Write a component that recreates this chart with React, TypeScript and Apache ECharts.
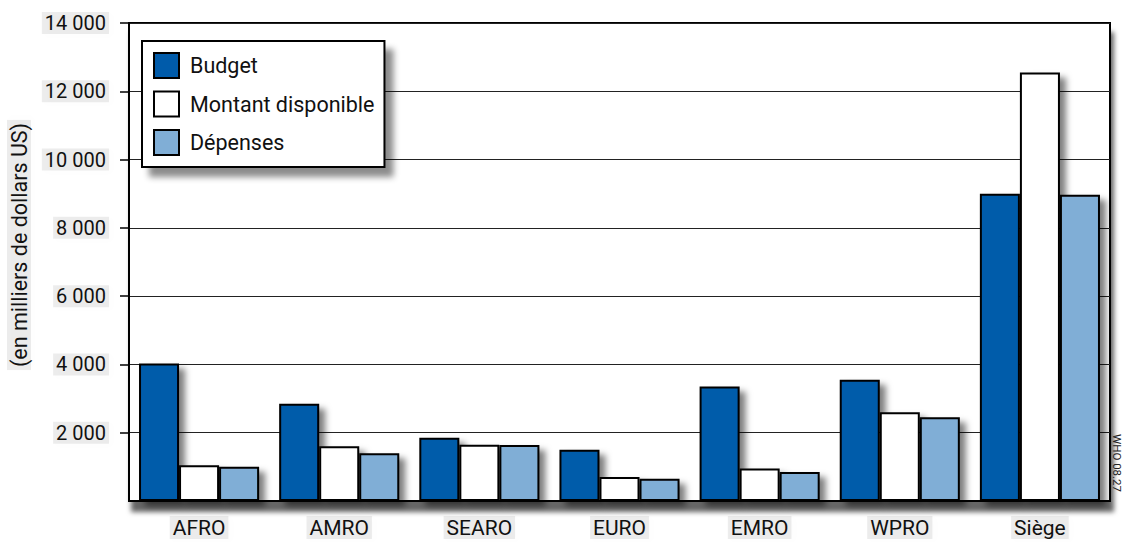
import React, { useEffect, useRef } from "react";
import * as echarts from "echarts";

// Regional offices and headquarters
const categories = ["AFRO", "AMRO", "SEARO", "EURO", "EMRO", "WPRO", "Siège"];

// Values in thousands of US dollars
const budget = [4030, 2850, 1850, 1500, 3350, 3550, 9000];
const available = [1050, 1600, 1650, 700, 950, 2600, 12550];
const expenses = [1000, 1400, 1640, 650, 850, 2450, 8970];

const seriesNames = ["Budget", "Montant disponible", "Dépenses"];
const yTicks = { min: 0, max: 14000, interval: 2000 };
const yAxisTitle = "(en milliers de dollars US)";
const sourceCode = "WHO 08.27";

const FONT = 'Roboto, "Liberation Sans", Arial, sans-serif';

// Soft grey halo behind the axis texts
const labelHaze = {
  backgroundColor: "rgba(0,0,0,0.07)",
  shadowColor: "rgba(0,0,0,0.12)",
  shadowBlur: 6,
  shadowOffsetX: 3,
  shadowOffsetY: 2,
  padding: [1, 3, 1, 3],
};

const barShadow = {
  shadowColor: "rgba(0,0,0,0.5)",
  shadowBlur: 6,
  shadowOffsetX: 6,
  shadowOffsetY: 5,
};

const formatThousands = (v: number) =>
  String(v).replace(/\B(?=(\d{3})+(?!\d))/g, " ");

export default function App() {
  const ref = useRef<HTMLDivElement>(null);

  useEffect(() => {
    if (!ref.current) return;
    const chart = echarts.init(ref.current, undefined, { renderer: "svg" });

    const colors = ["#005BAA", "#FFFFFF", "#80AED6"];
    const data = [budget, available, expenses];

    chart.setOption({
      animation: false,
      backgroundColor: "#ffffff",
      textStyle: { fontFamily: FONT },
      grid: {
        left: 129,
        right: 14,
        top: 23,
        bottom: 41,
        show: true,
        backgroundColor: "#ffffff",
        borderColor: "#000000",
        borderWidth: 2,
        shadowColor: "rgba(0,0,0,0.6)",
        shadowBlur: 5,
        shadowOffsetX: 3,
        shadowOffsetY: 10,
      },
      legend: {
        left: 142,
        top: 41,
        orient: "vertical",
        selectedMode: false,
        data: seriesNames,
        icon: "rect",
        itemWidth: 25,
        itemHeight: 25,
        itemGap: 11.5,
        padding: [11, 10, 11, 11],
        backgroundColor: "#ffffff",
        borderColor: "#000000",
        borderWidth: 2,
        shadowColor: "rgba(0,0,0,0.45)",
        shadowBlur: 6,
        shadowOffsetX: 8,
        shadowOffsetY: 9,
        itemStyle: {
          borderColor: "#000000",
          borderWidth: 2,
          shadowBlur: 0,
          shadowOffsetX: 0,
          shadowOffsetY: 0,
          shadowColor: "rgba(0,0,0,0)",
        },
        textStyle: {
          fontFamily: FONT,
          fontSize: 21.5,
          color: "#111111",
          padding: [0, 0, 0, 6],
        },
      },
      xAxis: {
        type: "category",
        data: categories,
        axisLine: { show: true, lineStyle: { color: "#000000", width: 2 } },
        axisTick: { show: false },
        axisLabel: {
          fontFamily: FONT,
          fontSize: 21,
          color: "#111111",
          margin: 15,
          ...labelHaze,
        },
        splitLine: { show: false },
      },
      yAxis: {
        type: "value",
        min: yTicks.min,
        max: yTicks.max,
        interval: yTicks.interval,
        axisLine: { show: true, lineStyle: { color: "#000000", width: 2 } },
        axisTick: {
          show: true,
          inside: false,
          length: 9,
          lineStyle: { color: "#000000", width: 1.5 },
        },
        axisLabel: {
          fontFamily: FONT,
          fontSize: 20,
          color: "#111111",
          margin: 20,
          showMinLabel: false,
          formatter: formatThousands,
          ...labelHaze,
        },
        splitLine: { show: true, lineStyle: { color: "#222222", width: 1 } },
      },
      series: seriesNames.map((name, i) => ({
        name,
        type: "bar",
        data: data[i],
        barGap: "0%",
        barCategoryGap: "14.3%",
        itemStyle: {
          color: colors[i],
          borderColor: "#000000",
          borderWidth: 2,
          ...barShadow,
        },
        emphasis: { disabled: true },
      })),
      graphic: [
        {
          type: "text",
          x: 19,
          y: 245,
          rotation: Math.PI / 2,
          style: {
            text: yAxisTitle,
            fontFamily: FONT,
            fontSize: 21.5,
            fill: "#111111",
            textAlign: "center",
            textVerticalAlign: "middle",
            ...labelHaze,
          },
        },
        {
          type: "text",
          x: 1117,
          y: 463,
          rotation: -Math.PI / 2,
          style: {
            text: sourceCode,
            fontFamily: FONT,
            fontSize: 11.5,
            lineHeight: 12,
            fill: "#222222",
            textAlign: "center",
            textVerticalAlign: "middle",
          },
        },
      ],
    });

    return () => chart.dispose();
  }, []);

  return (
    <div
      ref={ref}
      style={{ position: "absolute", left: 0, top: 0, width: 1124, height: 542 }}
    />
  );
}
